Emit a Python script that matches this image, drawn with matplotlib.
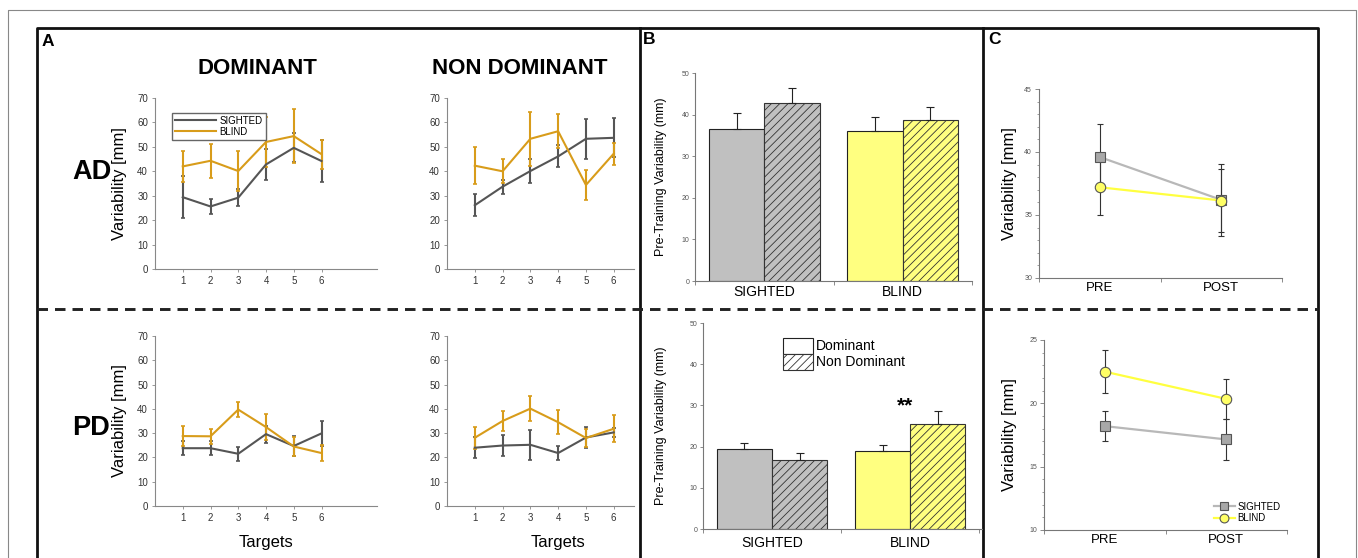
import numpy as np
import matplotlib
matplotlib.use('Agg')
import matplotlib.pyplot as plt
from matplotlib.lines import Line2D
from matplotlib.patches import Patch

plt.rcParams['font.family'] = ['Liberation Sans', 'DejaVu Sans']
plt.rcParams['hatch.linewidth'] = 0.6

W, H = 1358, 558

# ---- panel A data (targets 1..6) ----
targets = [1, 2, 3, 4, 5, 6]
ad_dom_sighted = [29.4, 25.6, 29.2, 42.8, 49.6, 44.2]
ad_dom_sighted_err = [8.5, 3.0, 3.5, 6.3, 6.0, 8.5]
ad_dom_blind = [42.0, 44.3, 40.1, 52.0, 54.4, 47.0]
ad_dom_blind_err = [6.5, 7.0, 8.0, 10.3, 11.0, 6.0]

ad_nondom_sighted = [26.1, 33.7, 40.1, 46.1, 53.3, 53.7]
ad_nondom_sighted_err = [4.6, 2.8, 5.0, 4.5, 8.3, 8.0]
ad_nondom_blind = [42.3, 40.0, 53.3, 56.4, 34.4, 47.2]
ad_nondom_blind_err = [7.5, 5.0, 11.0, 7.0, 6.3, 4.5]

pd_dom_sighted = [23.8, 23.8, 21.5, 29.6, 24.7, 29.9]
pd_dom_sighted_err = [2.8, 2.8, 3.0, 3.5, 4.0, 5.3]
pd_dom_blind = [28.8, 28.7, 39.7, 32.5, 24.5, 21.8]
pd_dom_blind_err = [4.2, 3.0, 3.2, 5.5, 4.0, 3.3]

pd_nondom_sighted = [24.0, 24.9, 25.2, 21.8, 28.2, 30.3]
pd_nondom_sighted_err = [4.3, 4.5, 6.2, 2.8, 4.2, 2.0]
pd_nondom_blind = [28.1, 35.0, 40.1, 34.5, 28.0, 31.8]
pd_nondom_blind_err = [4.5, 4.0, 5.3, 5.0, 3.8, 5.5]

# ---- panel B data ----
groups = ['SIGHTED', 'BLIND']
b_ad_dom = [36.5, 36.0]
b_ad_dom_err = [4.0, 3.5]
b_ad_nondom = [42.9, 38.7]
b_ad_nondom_err = [3.4, 3.1]
b_pd_dom = [19.3, 18.9]
b_pd_dom_err = [1.6, 1.4]
b_pd_nondom = [16.7, 25.6]
b_pd_nondom_err = [1.8, 3.0]

# ---- panel C data ----
sessions = ['PRE', 'POST']
c_ad_sighted = [39.6, 36.2]
c_ad_sighted_err = [2.6, 2.85]
c_ad_blind = [37.2, 36.15]
c_ad_blind_err = [2.2, 2.5]
c_pd_sighted = [18.2, 17.15]
c_pd_sighted_err = [1.2, 1.65]
c_pd_blind = [22.5, 20.35]
c_pd_blind_err = [1.7, 1.6]

GRAY_A = '#555555'
GOLD = '#d89c1a'
BAR_GRAY = '#c0c0c0'
BAR_YEL = '#ffff80'

fig = plt.figure(figsize=(W / 100, H / 100), dpi=100)


def ax_px(x0, y0, x1, y1):
    return fig.add_axes([x0 / W, 1 - y1 / H, (x1 - x0) / W, (y1 - y0) / H])


def ftext(x, y, s, **kw):
    fig.text(x / W, 1 - y / H, s, **kw)


# background frame
bg = fig.add_axes([0, 0, 1, 1], zorder=-5)
bg.set_xlim(0, W)
bg.set_ylim(H, 0)
bg.axis('off')
bg.plot([8, 8, 1356, 1356], [H, 10, 10, H], color='#888888', lw=0.8)
bg.plot([37, 37, 1318, 1318], [H, 28, 28, H], color='#111111', lw=2)
bg.plot([640, 640], [28, H], color='#111111', lw=2)
bg.plot([983, 983], [28, H], color='#111111', lw=2)
bg.plot([37, 1318], [309, 309], color='#222222', lw=2.1, linestyle=(0, (3.6, 2.4)))


def style_a(ax, xmax):
    ax.set_xlim(0, xmax)
    ax.set_ylim(0, 70)
    ax.set_xticks(targets)
    ax.set_yticks(range(0, 71, 10))
    for s in ['top', 'right']:
        ax.spines[s].set_visible(False)
    for s in ['left', 'bottom']:
        ax.spines[s].set_color('#888888')
        ax.spines[s].set_linewidth(0.8)
    ax.tick_params(labelsize=7, length=2, width=0.6, colors='#888888',
                   labelcolor='#333333', pad=3)


def draw_a(ax, s, se, b, be):
    ax.errorbar(targets, s, yerr=se, color=GRAY_A, lw=1.5, elinewidth=1.5,
                capsize=1.2, capthick=1.2)
    ax.errorbar(targets, b, yerr=be, color=GOLD, lw=1.5, elinewidth=1.5,
                capsize=1.2, capthick=1.2)


a1 = ax_px(155, 98, 377, 269)
draw_a(a1, ad_dom_sighted, ad_dom_sighted_err, ad_dom_blind, ad_dom_blind_err)
style_a(a1, 8)
a1.set_ylabel('Variability [mm]', fontsize=12)
a1.yaxis.set_label_coords(-0.126, 0.5)
a1.legend(handles=[Line2D([], [], color=GRAY_A, lw=1.5, label='SIGHTED'),
                   Line2D([], [], color=GOLD, lw=1.5, label='BLIND')],
          loc='upper left', bbox_to_anchor=(167 / W, 1 - 108 / H),
          bbox_transform=fig.transFigure, fontsize=7, frameon=True,
          fancybox=False, edgecolor='#666666', framealpha=1, borderpad=0.3,
          labelspacing=0.1, handlelength=4.2, handletextpad=0.4)

a2 = ax_px(447, 98, 634, 269)
draw_a(a2, ad_nondom_sighted, ad_nondom_sighted_err, ad_nondom_blind, ad_nondom_blind_err)
style_a(a2, 6.73)

a3 = ax_px(155, 336, 377, 506)
draw_a(a3, pd_dom_sighted, pd_dom_sighted_err, pd_dom_blind, pd_dom_blind_err)
style_a(a3, 8)
a3.set_ylabel('Variability [mm]', fontsize=12)
a3.yaxis.set_label_coords(-0.126, 0.5)
a3.set_xlabel('Targets', fontsize=12, labelpad=2)

a4 = ax_px(447, 336, 634, 506)
draw_a(a4, pd_nondom_sighted, pd_nondom_sighted_err, pd_nondom_blind, pd_nondom_blind_err)
style_a(a4, 6.73)
a4.set_xlabel('Targets', fontsize=12, labelpad=2)
a4.xaxis.set_label_coords((558 - 447) / (634 - 447), -0.17)
a3.xaxis.set_label_coords(0.5, -0.17)

ftext(257, 68, 'DOMINANT', fontsize=16, fontweight='bold', ha='center', va='center')
ftext(520, 68, 'NON DOMINANT', fontsize=16, fontweight='bold', ha='center', va='center')
ftext(92, 172, 'AD', fontsize=19.5, fontweight='bold', ha='center', va='center')
ftext(91, 428, 'PD', fontsize=19.5, fontweight='bold', ha='center', va='center')
ftext(42, 41, 'A', fontsize=12.5, fontweight='bold', ha='left', va='center')
ftext(643, 40, 'B', fontsize=12.5, fontweight='bold', ha='left', va='center')
ftext(988, 40, 'C', fontsize=12.5, fontweight='bold', ha='left', va='center')


# ---- panel B ----
def draw_b(ax, dom, dom_err, nondom, nondom_err, xmax, pad):
    x = np.arange(len(groups))
    colors = [BAR_GRAY, BAR_YEL]
    ax.bar(x - 0.2, dom, width=0.4, color=colors, edgecolor='#222222', lw=0.8)
    ax.bar(x + 0.2, nondom, width=0.4, color=colors, edgecolor='#333333', lw=0.8,
           hatch='////')
    ax.errorbar(x - 0.2, dom, yerr=[np.zeros(len(dom)), dom_err], fmt='none',
                ecolor='#222222', elinewidth=0.8, capsize=3, capthick=0.8)
    ax.errorbar(x + 0.2, nondom, yerr=[np.zeros(len(nondom)), nondom_err], fmt='none',
                ecolor='#222222', elinewidth=0.8, capsize=3, capthick=0.8)
    ax.set_xlim(-0.5, xmax)
    ax.set_ylim(0, 50)
    ax.set_yticks(range(0, 51, 10))
    ax.set_xticks([-0.5, 0.5, 1.5])
    ax.set_xticklabels([])
    ax.set_xticks(x, minor=True)
    ax.set_xticklabels(groups, minor=True)
    ax.tick_params(axis='x', which='minor', length=0, labelsize=10, pad=pad)
    ax.tick_params(axis='x', which='major', length=3, width=0.6, colors='#777777')
    ax.tick_params(axis='y', labelsize=5, length=2, width=0.6, colors='#777777',
                   labelcolor='#555555', pad=2)
    for s in ['top', 'right']:
        ax.spines[s].set_visible(False)
    for s in ['left', 'bottom']:
        ax.spines[s].set_color('#777777')
        ax.spines[s].set_linewidth(0.8)
    ax.set_ylabel('Pre-Training Variability (mm)', fontsize=9)


b1 = ax_px(695, 73, 972, 281)
draw_b(b1, b_ad_dom, b_ad_dom_err, b_ad_nondom, b_ad_nondom_err, 1.5, 3)
b1.yaxis.set_label_coords(-0.10, 0.5)

b2 = ax_px(703, 323, 982, 529)
draw_b(b2, b_pd_dom, b_pd_dom_err, b_pd_nondom, b_pd_nondom_err, 1.52, 5)
b2.yaxis.set_label_coords(-0.13, 0.5)
b2.text(0.96, 29.8, '**', fontsize=15, fontweight='bold', ha='center', va='center')
b2.legend(handles=[Patch(facecolor='white', edgecolor='#222222', lw=0.8, label='Dominant'),
                   Patch(facecolor='white', edgecolor='#333333', lw=0.8, hatch='////',
                         label='Non Dominant')],
          loc='upper left', bbox_to_anchor=(770 / W, 1 - 325 / H),
          bbox_transform=fig.transFigure, frameon=False, fontsize=10,
          handlelength=2.2, handleheight=1.4, handletextpad=0.2, labelspacing=0.0)


# ---- panel C ----
def draw_c(ax, s, se, b, be, ylo, yhi, legend=False):
    x = np.arange(len(sessions))
    ax.errorbar(x, s, yerr=se, fmt='none', ecolor='#333333', elinewidth=0.8,
                capsize=2, capthick=0.8)
    ax.errorbar(x, b, yerr=be, fmt='none', ecolor='#333333', elinewidth=0.8,
                capsize=2, capthick=0.8)
    ax.plot(x, s, color='#b8b8b8', lw=1.6, marker='s', markersize=6.5,
            markerfacecolor='#a8a8a8', markeredgecolor='#555555', markeredgewidth=0.8,
            label='SIGHTED')
    ax.plot(x, b, color='#ffff40', lw=1.6, marker='o', markersize=7.5,
            markerfacecolor='#ffff66', markeredgecolor='#555555', markeredgewidth=0.8,
            label='BLIND')
    ax.set_xlim(-0.5, 1.5)
    ax.set_ylim(ylo, yhi)
    ax.set_yticks(np.arange(ylo, yhi + 1, 5))
    ax.set_yticks(np.arange(ylo, yhi + 0.5, 1), minor=True)
    ax.set_xticks([-0.5, 0.5, 1.5])
    ax.set_xticklabels([])
    ax.set_xticks(x, minor=True)
    ax.set_xticklabels(sessions, minor=True)
    ax.tick_params(axis='x', which='minor', length=0, labelsize=9.5, pad=3)
    ax.tick_params(axis='x', which='major', length=3, width=0.6, colors='#777777')
    ax.tick_params(axis='y', which='major', labelsize=5, length=3, width=0.6,
                   colors='#777777', labelcolor='#555555', pad=2)
    ax.tick_params(axis='y', which='minor', length=1.5, width=0.5, colors='#777777')
    for sp in ['top', 'right']:
        ax.spines[sp].set_visible(False)
    for sp in ['left', 'bottom']:
        ax.spines[sp].set_color('#777777')
        ax.spines[sp].set_linewidth(0.8)
    ax.set_ylabel('Variability [mm]', fontsize=12)
    if legend:
        ax.legend(loc='lower right', frameon=False, fontsize=7, handlelength=2.2,
                  markerscale=0.85, labelspacing=0.15, handletextpad=0.2,
                  borderaxespad=0.3)


c1 = ax_px(1039, 89, 1282, 278)
draw_c(c1, c_ad_sighted, c_ad_sighted_err, c_ad_blind, c_ad_blind_err, 30, 45)
c1.yaxis.set_label_coords(-0.09, 0.5)

c2 = ax_px(1044, 340, 1287, 530)
draw_c(c2, c_pd_sighted, c_pd_sighted_err, c_pd_blind, c_pd_blind_err, 10, 25, legend=True)
c2.yaxis.set_label_coords(-0.11, 0.5)

fig.savefig('out.png', dpi=100)
